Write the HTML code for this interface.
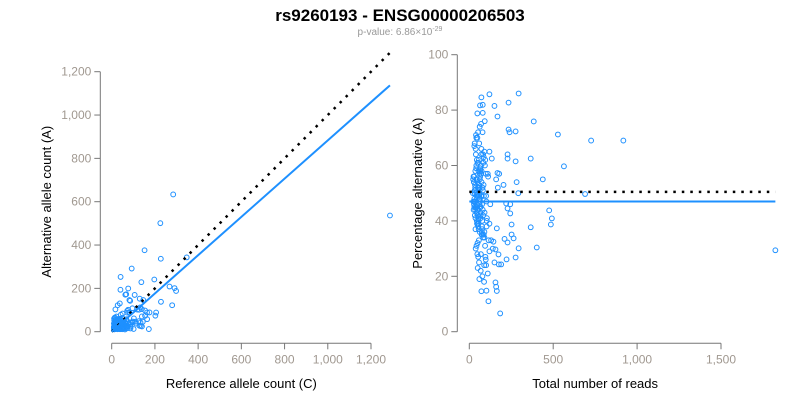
<!DOCTYPE html>
<html><head><meta charset="utf-8"><style>
body{margin:0;background:#fff;width:800px;height:400px;overflow:hidden;font-family:"Liberation Sans",sans-serif}
svg text{font-family:"Liberation Sans",sans-serif}
</style></head><body>
<svg id="chart" width="800" height="400" xmlns="http://www.w3.org/2000/svg">
<text x="400" y="21" text-anchor="middle" font-size="17" font-weight="bold" fill="#000">rs9260193 - ENSG00000206503</text>
<text x="400" y="35" text-anchor="middle" font-size="10" fill="#999">p-value: 6.86×10<tspan dy="-4" font-size="7">-29</tspan></text>
<g id="left"></g>
<g id="right"></g>
</svg>
<script>
// Right panel data: total reads and percentage alternative
const totals = [294,120,72,234,150,64,80,48,168,384,528,726,918,276,234,240,228,228,366,276,564,134,178,168,204,438,282,292,690,220,244,228,244,476,492,486,366,252,252,264,210,228,402,294,276,222,176,190,174,156,144,164,156,160,164,114,184,102,72,1824,
30,35,40,45,50,55,60,65,70,75,80,85,90,95,100,105,110,115,120,125,
32,38,42,48,52,58,62,68,72,78,82,88,92,98,104,112,
28,34,44,54,64,74,84,94,36,46,56,66,76,86,96,
30,40,50,60,70,80,90,100,110,120,25,35,45,55,65,75,
33,43,53,63,73,83,93,103,39,49,59,69,79,89,99,
30,42,54,66,78,90,102,58,62,70,44,48,52,56,120,130,140,150,160,170,
22,26,29,31,34,37,41,44,47,51,53,57,61,63,67,71,74,77,81,86,
24,27,33,36,39,43,46,49,52,55,59,62,65,68,72,76,79,83,87,91,
23,28,32,37,42,47,52,57,62,67,38,43,48,53,58,63,68,73,45,50];
const pcts = [86,85.7,84.6,82.7,81.5,81.7,81.9,78.8,77.7,75.9,71.2,69,69,72.3,73,72,64,62.5,62.5,61.5,59.7,62.5,57,57.3,53,55,54,50,49.7,46.3,46,44.5,42.7,43.8,40.9,38.7,37.7,38.7,35.1,33.7,33.5,32.2,30.4,30.1,26.8,26.1,24.3,24.3,27.9,29.7,32.5,37.3,17.8,16.2,14.7,11,6.6,14.8,14.6,29.4,
48,52,45,55,42,58,50,47,60,38,44,53,36,62,49,41,57,33,65,46,
68,30,70,28,72,25,74,22,66,20,64,18,76,26,40,56,
54,51,43,39,59,35,61,31,47,49,53,45,37,63,27,
67,71,23,19,75,79,34,24,21,29,56,44,62,40,58,36,
50,46,52,48,54,42,60,38,64,32,68,28,72,24,57,
45,55,41,59,35,65,47,53,51,49,43,39,61,37,39,33,30,25,55,52,
50,44,56,47,53,41,59,48,45,52,38,62,46,55,43,57,49,40,51,35,
47,54,42,58,45,50,39,61,44,53,48,36,56,41,64,46,52,34,49,43,
55,46,51,37,60,44,49,33,57,42,66,31,70,27,52,48,45,58,40,54];
const fitPct = 47;
const nullPct = 50.5;
const leftSlope = 0.883;
const xTicksL = [0,200,400,600,800,1000,1200];
const yTicksL = [0,200,400,600,800,1000,1200];
const xTicksR = [0,500,1000,1500];
const yTicksR = [0,20,40,60,80,100];

const NS="http://www.w3.org/2000/svg";
function mk(parent,tag,attrs){const e=document.createElementNS(NS,tag);for(const k in attrs)e.setAttribute(k,attrs[k]);parent.appendChild(e);return e;}
const fmt=v=>v.toLocaleString('en-US');

const xL=v=>111.7+v*259.3/1200, yL=v=>331.7-v*260/1200;
const xR=v=>469.3+v*251.7/1500, yR=v=>331.7-v*277/100;

function axes(g,xs,ys,xf,yf,axX,axY,xTitle,yTitle,ytx){
  const xa=mk(g,'line',{x1:xf(xs[0]),x2:xf(xs[xs.length-1]),y1:axY,y2:axY,stroke:'#777'});
  
  
  xs.forEach(t=>{mk(g,'line',{x1:xf(t),x2:xf(t),y1:axY,y2:axY+6,stroke:'#777'});
    const tx=mk(g,'text',{x:xf(t),y:axY+20,'text-anchor':'middle','font-size':12,fill:'#a09890'});tx.textContent=fmt(t);
    
    });
  const ya=mk(g,'line',{x1:axX,x2:axX,y1:yf(ys[0]),y2:yf(ys[ys.length-1]),stroke:'#777'});
  
  
  ys.forEach(t=>{mk(g,'line',{x1:axX-6,x2:axX,y1:yf(t),y2:yf(t),stroke:'#777'});
    const tx=mk(g,'text',{x:axX-9,y:yf(t)+4,'text-anchor':'end','font-size':12,fill:'#a09890'});tx.textContent=fmt(t);
    
    });
  const xt=mk(g,'text',{x:(xf(xs[0])+xf(xs[xs.length-1]))/2,y:388,'text-anchor':'middle','font-size':13,fill:'#000'});xt.textContent=xTitle;
  
  
  const yt=mk(g,'text',{transform:`translate(${ytx},${(yf(ys[0])+yf(ys[ys.length-1]))/2}) rotate(-90)`,'text-anchor':'middle','font-size':13,fill:'#000'});yt.textContent=yTitle;
  
  
}
const L=document.getElementById('left'),R=document.getElementById('right');
axes(L,xTicksL,yTicksL,xL,yL,100.3,343.3,'Reference allele count (C)','Alternative allele count (A)',51);
axes(R,xTicksR,yTicksR,xR,yR,457.3,343.3,'Total number of reads','Percentage alternative (A)',422);

for(let i=0;i<totals.length;i++){
  const alt=totals[i]*pcts[i]/100, ref=totals[i]-alt;
  const c1=mk(L,'circle',{cx:xL(ref),cy:yL(alt),r:2.4,fill:'none',stroke:'#1E90FF','stroke-width':1});
  
  
  const c2=mk(R,'circle',{cx:xR(totals[i]),cy:yR(pcts[i]),r:2.4,fill:'none',stroke:'#1E90FF','stroke-width':1});
  
  
}
const maxRef=Math.max(...totals.map((t,i)=>t*(1-pcts[i]/100)));
const maxTot=Math.max(...totals);
let l=mk(L,'line',{x1:xL(0),y1:yL(0),x2:xL(maxRef),y2:yL(maxRef),stroke:'#000','stroke-width':2.5,'stroke-dasharray':'2.5 6'});


l=mk(L,'line',{x1:xL(0),y1:yL(0),x2:xL(maxRef),y2:yL(maxRef*leftSlope),stroke:'#1E90FF','stroke-width':2});


l=mk(R,'line',{x1:xR(0),y1:yR(nullPct),x2:xR(maxTot),y2:yR(nullPct),stroke:'#000','stroke-width':2.5,'stroke-dasharray':'2.5 6'});


l=mk(R,'line',{x1:xR(0),y1:yR(fitPct),x2:xR(maxTot),y2:yR(fitPct),stroke:'#1E90FF','stroke-width':2});


</script>
</body></html>
